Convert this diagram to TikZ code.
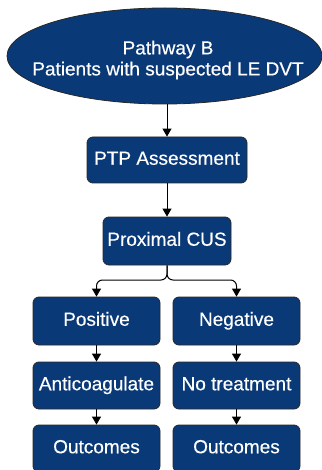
\documentclass[tikz,border=0pt]{standalone}
\usepackage{fontspec}
\setmainfont[FakeBold=0.4]{Liberation Sans}
\usetikzlibrary{arrows.meta,shapes.geometric}
\definecolor{navy}{RGB}{10,57,120}
\definecolor{edge}{RGB}{40,40,40}
\tikzset{
  x=1pt, y=-1pt,
  txt/.style={text=white, font=\fontsize{19}{21}\selectfont, align=center},
  stepbox/.style={txt, draw=edge, line width=0.8pt, fill=navy, rounded corners=6pt,
    minimum width=127pt, minimum height=47pt, inner sep=0pt,
    text height=13.5pt, text depth=4pt},
  startoval/.style={draw=edge, line width=0.8pt, fill=navy, ellipse,
    minimum width=315pt, minimum height=96pt, inner sep=0pt},
  link/.style={draw=black, line width=1pt, -{Triangle[width=9pt,length=8pt]}},
}
\begin{document}
\begin{tikzpicture}
\useasboundingbox (0,0) rectangle (321,470);
% start oval and its two-line caption
\node[startoval] (start) at (164.5,56) {};
\node[txt, inner sep=0pt] (startlbl) at (168,60) {Pathway B\\Patients with suspected LE DVT};
% process steps
\node[stepbox, minimum width=160pt, minimum height=46pt] (ptp) at (167,160) {PTP Assessment};
\node[stepbox, minimum width=128pt, minimum height=48pt] (cus) at (167,241) {Proximal CUS};
\node[stepbox, minimum height=48pt] (pos) at (96.5,321) {Positive};
\node[stepbox, minimum height=48pt] (neg) at (236.5,321) {Negative};
\node[stepbox] (anti) at (96.5,385.5) {Anticoagulate};
\node[stepbox] (none) at (236.5,385.5) {No treatment};
\node[stepbox] (outa) at (96.5,448.5) {Outcomes};
\node[stepbox] (outb) at (236.5,448.5) {Outcomes};
% connectors
\coordinate (fork) at (167,280);
\draw[link] (ptp.north |- start.south) -- (ptp.north);
\draw[link] (ptp.south -| cus.north) -- (cus.north);
\draw[link, rounded corners=6pt] (cus.south) -- (fork) -- (fork -| pos.north) -- (pos.north);
\draw[link, rounded corners=6pt] (cus.south) -- (fork) -- (fork -| neg.north) -- (neg.north);
\draw[link] (pos) -- (anti);
\draw[link] (neg) -- (none);
\draw[link] (anti) -- (outa);
\draw[link] (none) -- (outb);
\end{tikzpicture}
\end{document}
